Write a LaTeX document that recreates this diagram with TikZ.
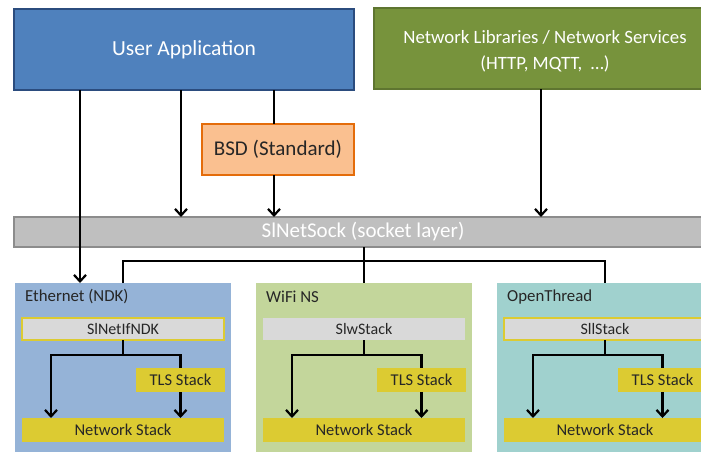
\documentclass[tikz,border=0pt]{standalone}
\usepackage{fontspec}
\setmainfont{Carlito}
\usetikzlibrary{arrows.meta}
\definecolor{uaFill}{HTML}{4F81BD}
\definecolor{uaDraw}{HTML}{2B4C7E}
\definecolor{nlFill}{HTML}{77933C}
\definecolor{nlDraw}{HTML}{5E7530}
\definecolor{bsdFill}{HTML}{FAC090}
\definecolor{bsdDraw}{HTML}{E46C0A}
\definecolor{sockFill}{HTML}{BFBFBF}
\definecolor{sockDraw}{HTML}{8C8C8C}
\definecolor{ethFill}{HTML}{95B3D7}
\definecolor{wifiFill}{HTML}{C3D69B}
\definecolor{otFill}{HTML}{A0D1CE}
\definecolor{ifFill}{HTML}{D9D9D9}
\definecolor{ylw}{HTML}{DCCB32}
\definecolor{txt}{HTML}{262626}
\begin{document}
\begin{tikzpicture}[x=1pt,y=-1pt,
  box/.style={draw, line width=2pt, inner sep=0pt, outer sep=0pt, align=center},
  grp/.style={fill, inner sep=0pt, outer sep=0pt, minimum width=216, minimum height=187},
  grplabel/.style={anchor=west, inner sep=0pt, text=txt, font=\fontsize{16.8}{19}\selectfont},
  ifbox/.style={fill=ifFill, inner sep=0pt, outer sep=0pt, minimum width=202, minimum height=22, text=txt, font=\fontsize{16}{19}\selectfont},
  tlsbox/.style={fill=ylw, inner sep=0pt, outer sep=0pt, minimum width=89, minimum height=24, text=txt, font=\fontsize{16.5}{19}\selectfont},
  netbox/.style={fill=ylw, inner sep=0pt, outer sep=0pt, minimum width=202, minimum height=24, text=txt, font=\fontsize{16.5}{19}\selectfont},
  conn/.style={line width=2.2pt},
  arr/.style={line width=2.2pt, -{Straight Barb[length=6.5pt,width=12pt]}}
]
\clip (0,0) rectangle (701,451);
% top boxes
\node[box, fill=uaFill, draw=uaDraw, minimum width=340, minimum height=81, text=white,
  font=\fontsize{21.5}{25}\selectfont] (ua) at (184,49.5) {User Application};
\node[box, fill=nlFill, draw=nlDraw, minimum width=342, minimum height=81, text=white,
  font=\fontsize{18.8}{25.5}\selectfont] (nl) at (545,48.5) {\rule{0pt}{19pt}Network Libraries / Network Services\\(HTTP, MQTT,\ \ …)};
\node[box, fill=bsdFill, draw=bsdDraw, minimum width=152, minimum height=51, text=txt,
  font=\fontsize{21}{25}\selectfont] (bsd) at (278,149.5) {BSD (Standard)};
\node[box, fill=sockFill, draw=sockDraw, minimum width=698, minimum height=30, text=white,
  font=\fontsize{21}{25}\selectfont] (sock) at (363,232) {SlNetSock (socket layer)};
% groups
\node[grp, fill=ethFill] (eth) at (123,376.5) {};
\node[grp, fill=wifiFill] (wifi) at (364,376.5) {};
\node[grp, fill=otFill] (ot) at (605,376.5) {};
\node[grplabel] (ethL) at (25,297) {Ethernet (NDK)};
\node[grplabel] (wifiL) at (266,297) {WiFi NS};
\node[grplabel] (otL) at (507,297) {OpenThread};
% inner boxes
\node[ifbox, draw=ylw, line width=2pt] (ethIf) at (123,329) {SlNetIfNDK};
\node[ifbox] (wifiIf) at (364,329) {SlwStack};
\node[ifbox, draw=ylw, line width=2pt] (otIf) at (605,329) {SllStack};
\node[tlsbox] (ethTls) at (180.5,380) {TLS Stack};
\node[tlsbox] (wifiTls) at (421.5,380) {TLS Stack};
\node[tlsbox] (otTls) at (662.5,380) {TLS Stack};
\node[netbox] (ethNet) at (123,430) {Network Stack};
\node[netbox] (wifiNet) at (364,430) {Network Stack};
\node[netbox] (otNet) at (605,430) {Network Stack};
% helper coordinates
\coordinate (xa) at (80,0);
\coordinate (xb) at (181,0);
\coordinate (xc) at (274,0);
\coordinate (xd) at (541,0);
\coordinate (hy) at (0,261);
\coordinate (ethB) at (123,355);
\coordinate (wifiB) at (364,355);
\coordinate (otB) at (605,355);
\coordinate (ethLx) at (51,355);
\coordinate (wifiLx) at (292,355);
\coordinate (otLx) at (533,355);
% top connectors
\draw[arr] (ua.south -| xb) -- (sock.north -| xb);
\draw[conn] (ua.south -| xc) -- (bsd.north -| xc);
\draw[arr] (bsd.south -| xc) -- (sock.north -| xc);
\draw[arr] (nl.south -| xd) -- (sock.north -| xd);
% socket layer to groups
\draw[conn] (sock.south -| wifi.north) -- (wifi.north);
\draw[conn, line join=miter] (eth.north) |- (hy -| wifi.north) -| (ot.north);
\draw[arr] (ua.south -| xa) -- (eth.north -| xa);
% inside groups
\foreach \g in {eth,wifi,ot}{
  \draw[conn] (\g If.south) -- (\g B);
  \draw[arr] (\g B) -| (\g Lx |- \g Net.north);
  \draw[conn] (\g B) -| (\g Tls.north);
  \draw[arr] (\g Tls.south) -- (\g Tls.south |- \g Net.north);
}
\end{tikzpicture}
\end{document}
